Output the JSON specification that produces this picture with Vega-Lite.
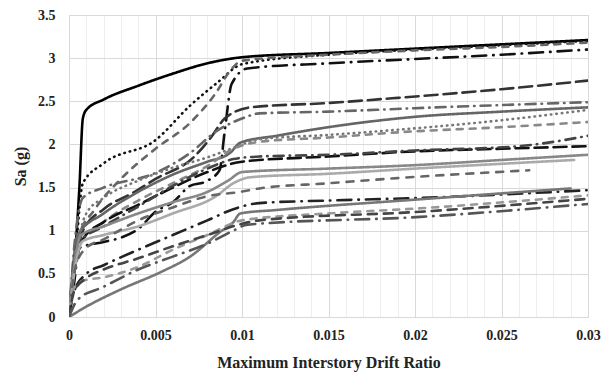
{
  "$schema": "https://vega.github.io/schema/vega-lite/v6.json",
  "width": 519,
  "height": 302,
  "autosize": "none",
  "padding": {"left": 69, "top": 15, "right": 20, "bottom": 59},
  "background": "white",
  "config": {
    "view": {"stroke": "#d9d9d9"},
    "font": "Liberation Serif",
    "axis": {"labelFont": "Liberation Serif", "titleFont": "Liberation Serif", "labelFontWeight": "bold", "titleFontWeight": "bold", "labelFontSize": 14, "titleFontSize": 16, "labelColor": "#222", "titleColor": "#222", "domain": false, "ticks": false}
  },
  "data": {"values": [
    {"s":"A","x":0,"y":0},{"s":"A","x":0.0003,"y":0.6},{"s":"A","x":0.0006,"y":1.5},{"s":"A","x":0.0008,"y":2.3},{"s":"A","x":0.001,"y":2.4},{"s":"A","x":0.002,"y":2.52},{"s":"A","x":0.004,"y":2.68},{"s":"A","x":0.006,"y":2.82},{"s":"A","x":0.008,"y":2.94},{"s":"A","x":0.01,"y":3.01},{"s":"A","x":0.015,"y":3.06},{"s":"A","x":0.02,"y":3.11},{"s":"A","x":0.025,"y":3.16},{"s":"A","x":0.03,"y":3.21},
    {"s":"B","x":0,"y":0},{"s":"B","x":0.0004,"y":0.8},{"s":"B","x":0.0008,"y":1.55},{"s":"B","x":0.002,"y":1.78},{"s":"B","x":0.005,"y":2.05},{"s":"B","x":0.007,"y":2.45},{"s":"B","x":0.0086,"y":2.72},{"s":"B","x":0.01,"y":2.93},{"s":"B","x":0.015,"y":3.04},{"s":"B","x":0.02,"y":3.1},{"s":"B","x":0.025,"y":3.15},{"s":"B","x":0.03,"y":3.2},
    {"s":"C","x":0,"y":0},{"s":"C","x":0.0005,"y":0.9},{"s":"C","x":0.0015,"y":1.25},{"s":"C","x":0.003,"y":1.6},{"s":"C","x":0.005,"y":1.95},{"s":"C","x":0.007,"y":2.25},{"s":"C","x":0.0085,"y":2.6},{"s":"C","x":0.0093,"y":2.85},{"s":"C","x":0.01,"y":2.97},{"s":"C","x":0.015,"y":3.04},{"s":"C","x":0.02,"y":3.09},{"s":"C","x":0.025,"y":3.13},{"s":"C","x":0.03,"y":3.18},
    {"s":"D","x":0,"y":0},{"s":"D","x":0.0003,"y":0.4},{"s":"D","x":0.0006,"y":0.8},{"s":"D","x":0.002,"y":0.87},{"s":"D","x":0.003,"y":0.92},{"s":"D","x":0.004,"y":1.02},{"s":"D","x":0.005,"y":1.22},{"s":"D","x":0.006,"y":1.33},{"s":"D","x":0.007,"y":1.52},{"s":"D","x":0.0079,"y":1.57},{"s":"D","x":0.0087,"y":1.7},{"s":"D","x":0.009,"y":2.15},{"s":"D","x":0.0094,"y":2.7},{"s":"D","x":0.0103,"y":2.88},{"s":"D","x":0.015,"y":2.94},{"s":"D","x":0.02,"y":2.99},{"s":"D","x":0.025,"y":3.04},{"s":"D","x":0.03,"y":3.1},
    {"s":"E","x":0,"y":0},{"s":"E","x":0.0003,"y":0.5},{"s":"E","x":0.0008,"y":1.0},{"s":"E","x":0.002,"y":1.25},{"s":"E","x":0.0037,"y":1.44},{"s":"E","x":0.005,"y":1.6},{"s":"E","x":0.0072,"y":1.85},{"s":"E","x":0.0082,"y":2.08},{"s":"E","x":0.009,"y":2.3},{"s":"E","x":0.0105,"y":2.43},{"s":"E","x":0.015,"y":2.48},{"s":"E","x":0.019,"y":2.54},{"s":"E","x":0.025,"y":2.64},{"s":"E","x":0.03,"y":2.74},
    {"s":"F","x":0,"y":0},{"s":"F","x":0.0004,"y":1.0},{"s":"F","x":0.0008,"y":1.38},{"s":"F","x":0.002,"y":1.5},{"s":"F","x":0.005,"y":1.67},{"s":"F","x":0.007,"y":1.9},{"s":"F","x":0.0085,"y":2.15},{"s":"F","x":0.01,"y":2.3},{"s":"F","x":0.011,"y":2.36},{"s":"F","x":0.015,"y":2.38},{"s":"F","x":0.02,"y":2.42},{"s":"F","x":0.03,"y":2.49},
    {"s":"G","x":0,"y":0},{"s":"G","x":0.0005,"y":0.95},{"s":"G","x":0.002,"y":1.2},{"s":"G","x":0.004,"y":1.45},{"s":"G","x":0.006,"y":1.65},{"s":"G","x":0.008,"y":1.8},{"s":"G","x":0.0093,"y":1.9},{"s":"G","x":0.0099,"y":2.02},{"s":"G","x":0.012,"y":2.1},{"s":"G","x":0.015,"y":2.2},{"s":"G","x":0.02,"y":2.32},{"s":"G","x":0.025,"y":2.38},{"s":"G","x":0.03,"y":2.43},
    {"s":"H","x":0,"y":0},{"s":"H","x":0.0004,"y":0.7},{"s":"H","x":0.001,"y":1.2},{"s":"H","x":0.002,"y":1.38},{"s":"H","x":0.004,"y":1.58},{"s":"H","x":0.006,"y":1.73},{"s":"H","x":0.008,"y":1.85},{"s":"H","x":0.0095,"y":1.96},{"s":"H","x":0.011,"y":2.06},{"s":"H","x":0.015,"y":2.11},{"s":"H","x":0.019,"y":2.17},{"s":"H","x":0.025,"y":2.28},{"s":"H","x":0.03,"y":2.4},
    {"s":"I","x":0,"y":0},{"s":"I","x":0.0005,"y":0.8},{"s":"I","x":0.002,"y":1.1},{"s":"I","x":0.004,"y":1.35},{"s":"I","x":0.006,"y":1.55},{"s":"I","x":0.008,"y":1.75},{"s":"I","x":0.0095,"y":1.95},{"s":"I","x":0.011,"y":2.03},{"s":"I","x":0.015,"y":2.08},{"s":"I","x":0.019,"y":2.14},{"s":"I","x":0.025,"y":2.2},{"s":"I","x":0.03,"y":2.26},
    {"s":"J1","x":0,"y":0},{"s":"J1","x":0.0003,"y":0.5},{"s":"J1","x":0.0008,"y":0.9},{"s":"J1","x":0.002,"y":1.1},{"s":"J1","x":0.004,"y":1.3},{"s":"J1","x":0.006,"y":1.5},{"s":"J1","x":0.008,"y":1.68},{"s":"J1","x":0.01,"y":1.8},{"s":"J1","x":0.015,"y":1.86},{"s":"J1","x":0.02,"y":1.92},{"s":"J1","x":0.025,"y":1.95},{"s":"J1","x":0.03,"y":1.98},
    {"s":"J2","x":0,"y":0},{"s":"J2","x":0.0005,"y":0.85},{"s":"J2","x":0.002,"y":1.05},{"s":"J2","x":0.004,"y":1.28},{"s":"J2","x":0.006,"y":1.52},{"s":"J2","x":0.008,"y":1.72},{"s":"J2","x":0.0095,"y":1.83},{"s":"J2","x":0.011,"y":1.86},{"s":"J2","x":0.015,"y":1.88},{"s":"J2","x":0.02,"y":1.93},{"s":"J2","x":0.026,"y":1.98},{"s":"J2","x":0.03,"y":2.1},
    {"s":"K1","x":0,"y":0},{"s":"K1","x":0.0003,"y":0.6},{"s":"K1","x":0.0007,"y":0.95},{"s":"K1","x":0.002,"y":1.05},{"s":"K1","x":0.004,"y":1.2},{"s":"K1","x":0.006,"y":1.33},{"s":"K1","x":0.008,"y":1.45},{"s":"K1","x":0.0092,"y":1.58},{"s":"K1","x":0.01,"y":1.68},{"s":"K1","x":0.015,"y":1.72},{"s":"K1","x":0.02,"y":1.76},{"s":"K1","x":0.025,"y":1.82},{"s":"K1","x":0.03,"y":1.88},
    {"s":"K2","x":0,"y":0},{"s":"K2","x":0.0003,"y":0.5},{"s":"K2","x":0.0008,"y":0.88},{"s":"K2","x":0.002,"y":0.95},{"s":"K2","x":0.004,"y":1.05},{"s":"K2","x":0.006,"y":1.2},{"s":"K2","x":0.0085,"y":1.4},{"s":"K2","x":0.0095,"y":1.55},{"s":"K2","x":0.0105,"y":1.62},{"s":"K2","x":0.015,"y":1.66},{"s":"K2","x":0.02,"y":1.72},{"s":"K2","x":0.0292,"y":1.82},
    {"s":"L","x":0,"y":0},{"s":"L","x":0.0004,"y":0.6},{"s":"L","x":0.001,"y":0.8},{"s":"L","x":0.002,"y":0.9},{"s":"L","x":0.004,"y":1.12},{"s":"L","x":0.006,"y":1.27},{"s":"L","x":0.008,"y":1.4},{"s":"L","x":0.0099,"y":1.45},{"s":"L","x":0.011,"y":1.49},{"s":"L","x":0.015,"y":1.55},{"s":"L","x":0.019,"y":1.61},{"s":"L","x":0.0266,"y":1.7},
    {"s":"M","x":0,"y":0},{"s":"M","x":0.0003,"y":0.3},{"s":"M","x":0.001,"y":0.5},{"s":"M","x":0.002,"y":0.6},{"s":"M","x":0.004,"y":0.78},{"s":"M","x":0.006,"y":0.95},{"s":"M","x":0.008,"y":1.12},{"s":"M","x":0.0095,"y":1.25},{"s":"M","x":0.011,"y":1.32},{"s":"M","x":0.015,"y":1.35},{"s":"M","x":0.0203,"y":1.38},{"s":"M","x":0.03,"y":1.47},
    {"s":"O","x":0,"y":0},{"s":"O","x":0.001,"y":0.12},{"s":"O","x":0.003,"y":0.32},{"s":"O","x":0.0053,"y":0.52},{"s":"O","x":0.007,"y":0.7},{"s":"O","x":0.0087,"y":0.98},{"s":"O","x":0.0095,"y":1.1},{"s":"O","x":0.0099,"y":1.2},{"s":"O","x":0.012,"y":1.24},{"s":"O","x":0.02,"y":1.36},{"s":"O","x":0.029,"y":1.49},
    {"s":"P","x":0,"y":0},{"s":"P","x":0.0002,"y":0.3},{"s":"P","x":0.0008,"y":0.42},{"s":"P","x":0.002,"y":0.46},{"s":"P","x":0.004,"y":0.58},{"s":"P","x":0.006,"y":0.78},{"s":"P","x":0.008,"y":0.95},{"s":"P","x":0.01,"y":1.12},{"s":"P","x":0.015,"y":1.2},{"s":"P","x":0.0203,"y":1.26},{"s":"P","x":0.03,"y":1.41},
    {"s":"Q","x":0,"y":0},{"s":"Q","x":0.0003,"y":0.3},{"s":"Q","x":0.001,"y":0.45},{"s":"Q","x":0.002,"y":0.55},{"s":"Q","x":0.004,"y":0.68},{"s":"Q","x":0.006,"y":0.82},{"s":"Q","x":0.008,"y":0.95},{"s":"Q","x":0.01,"y":1.08},{"s":"Q","x":0.011,"y":1.12},{"s":"Q","x":0.0203,"y":1.22},{"s":"Q","x":0.03,"y":1.37},
    {"s":"R","x":0,"y":0},{"s":"R","x":0.0005,"y":0.2},{"s":"R","x":0.002,"y":0.35},{"s":"R","x":0.004,"y":0.55},{"s":"R","x":0.006,"y":0.7},{"s":"R","x":0.008,"y":0.85},{"s":"R","x":0.0095,"y":1.0},{"s":"R","x":0.0103,"y":1.07},{"s":"R","x":0.0203,"y":1.16},{"s":"R","x":0.03,"y":1.31}
  ]},
  "mark": {"type": "line", "interpolate": "monotone", "strokeWidth": 2.6, "strokeCap": "round", "clip": true},
  "encoding": {
    "x": {"field": "x", "type": "quantitative", "scale": {"domain": [0, 0.03], "nice": false},
      "axis": {"title": "Maximum Interstory Drift Ratio", "titlePadding": 12, "labelPadding": 11, "labelOverlap": false, "labelFlush": false,
        "values": [0,0.001,0.002,0.003,0.004,0.005,0.006,0.007,0.008,0.009,0.01,0.011,0.012,0.013,0.014,0.015,0.016,0.017,0.018,0.019,0.02,0.021,0.022,0.023,0.024,0.025,0.026,0.027,0.028,0.029,0.03],
        "labelExpr": "round(datum.value*1000)%5==0 ? format(datum.value,'~g') : ''",
        "gridColor": {"condition": {"test": "round(datum.value*1000)%5==0", "value": "#d9d9d9"}, "value": "#eeeeee"}}},
    "y": {"field": "y", "type": "quantitative", "scale": {"domain": [0, 3.5], "nice": false},
      "axis": {"title": "Sa (g)", "titlePadding": 9, "labelPadding": 14, "labelFlush": false, "values": [0,0.5,1,1.5,2,2.5,3,3.5], "format": "~g", "gridColor": "#d9d9d9"}},
    "detail": {"field": "s"},
    "color": {"field": "s", "type": "nominal", "legend": null,
      "scale": {"domain": ["A","B","C","D","E","F","G","H","I","J1","J2","K1","K2","L","M","O","P","Q","R"],
        "range": ["#000000","#111111","#666666","#111111","#333333","#666666","#666666","#777777","#888888","#111111","#444444","#888888","#aaaaaa","#666666","#222222","#777777","#999999","#444444","#555555"]}},
    "strokeDash": {"field": "s", "type": "nominal", "legend": null,
      "scale": {"domain": ["A","B","C","D","E","F","G","H","I","J1","J2","K1","K2","L","M","O","P","Q","R"],
        "range": [[1,0],[0.5,5],[6,7],[14,7,0.5,7],[13,6],[10,6,0.5,6],[1,0],[0.5,5],[6,7],[13,6],[10,6,0.5,6],[1,0],[1,0],[7,8],[14,7,0.5,7],[1,0],[6,7],[9,7],[14,7,0.5,7]]}}
  }
}
